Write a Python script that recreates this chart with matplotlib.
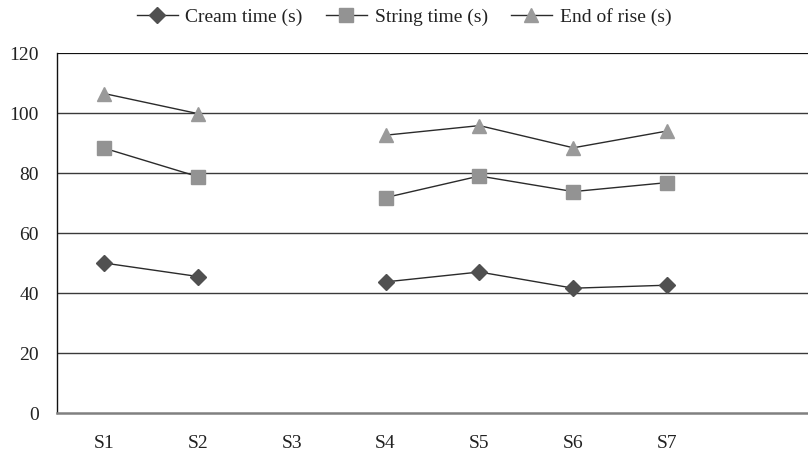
import numpy as np
import matplotlib
matplotlib.use("Agg")
from matplotlib import pyplot as plt

# samples S1..S7 plus one empty slot on the right (as in the original sheet)
samples = ["S1", "S2", "S3", "S4", "S5", "S6", "S7", ""]
cream_time = [50.0, 45.5, np.nan, 43.7, 47.0, 41.6, 42.6, np.nan]
string_time = [88.3, 78.8, np.nan, 71.8, 79.0, 73.8, 76.8, np.nan]
end_of_rise = [106.5, 99.8, np.nan, 92.6, 95.8, 88.4, 94.0, np.nan]
y_ticks = [0, 20, 40, 60, 80, 100, 120]

plt.rcParams['font.family'] = ['Liberation Serif', 'DejaVu Serif']

fig = plt.figure(figsize=(8.08, 4.53), dpi=100)
ax = fig.add_axes([57 / 808, 1 - 413 / 453, 1 - 57 / 808, (413 - 53) / 453])

x = np.arange(len(samples))
line_col = '#2b2b2b'
ax.plot(x, cream_time, color=line_col, lw=1.0, marker='D', markersize=8.5,
        markerfacecolor='#505050', markeredgecolor='#505050', label='Cream time (s)', zorder=3)
ax.plot(x, string_time, color=line_col, lw=1.0, marker='s', markersize=10,
        markerfacecolor='#939393', markeredgecolor='#939393', label='String time (s)', zorder=3)
ax.plot(x, end_of_rise, color=line_col, lw=1.0, marker='^', markersize=9.5,
        markerfacecolor='#9a9a9a', markeredgecolor='#9a9a9a', label='End of rise (s)', zorder=3)

ax.set_xlim(-0.5, len(samples) - 0.5)
ax.set_ylim(0, 120)
ax.set_xticks(x)
ax.set_xticklabels(samples)
ax.set_yticks(y_ticks)

for v in y_ticks[1:-1]:
    ax.axhline(v, color='#3a3a3a', lw=1.0, zorder=1)
ax.axhline(120, color='#111111', lw=1.6, zorder=1)

ax.spines['right'].set_visible(False)
ax.spines['top'].set_visible(False)
ax.spines['left'].set_color('#111111')
ax.spines['left'].set_linewidth(1.0)
ax.spines['bottom'].set_color('#808080')
ax.spines['bottom'].set_linewidth(1.8)

ax.tick_params(axis='both', length=0, labelsize=14, colors='#222222')
ax.tick_params(axis='x', pad=16)
ax.tick_params(axis='y', pad=13)

leg = fig.legend(loc='center', bbox_to_anchor=(0.5, 1 - 17 / 453), ncol=3, frameon=False,
                 fontsize=14, handlelength=2.1, columnspacing=1.2, handletextpad=0.4,
                 borderpad=0)
for t in leg.get_texts():
    t.set_color('#222222')

fig.savefig('out.png', dpi=100)
